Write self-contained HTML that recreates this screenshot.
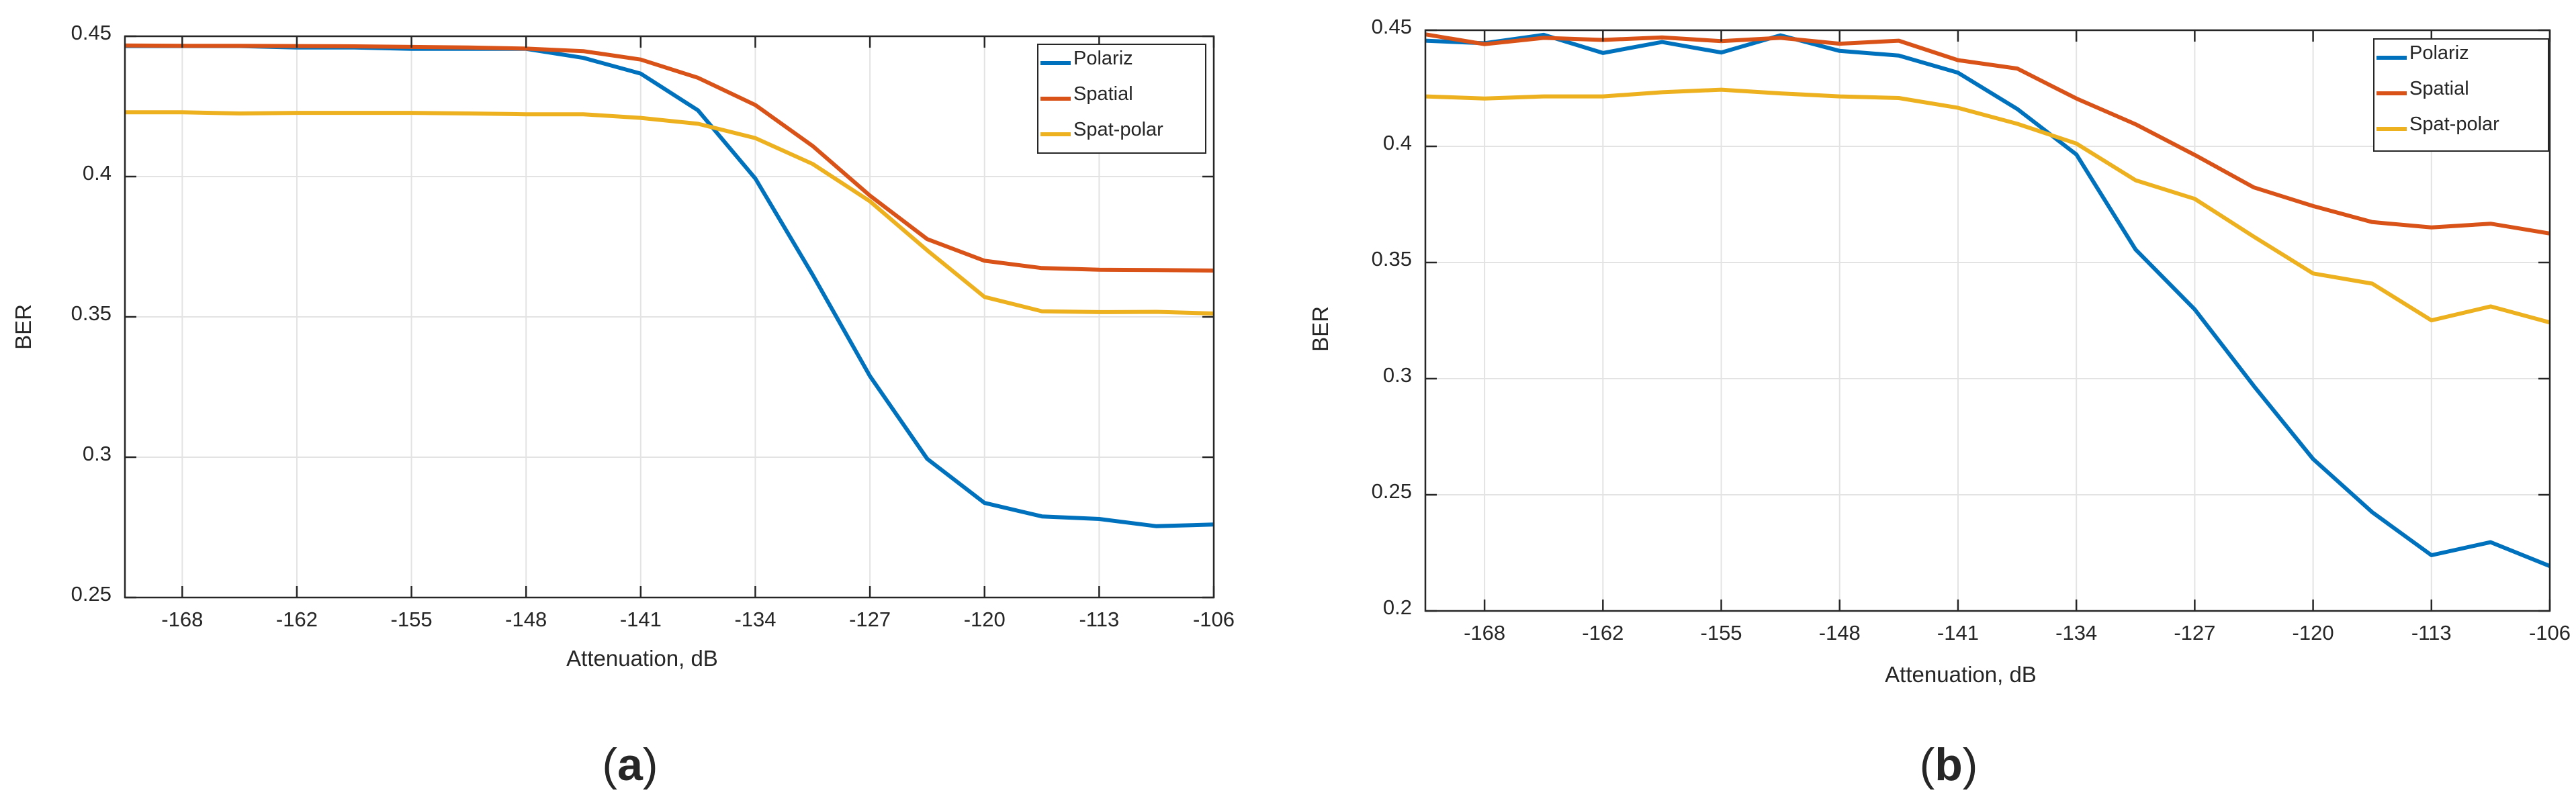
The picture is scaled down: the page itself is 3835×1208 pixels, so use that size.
<!DOCTYPE html>
<html><head><meta charset="utf-8"><style>
html,body{margin:0;padding:0;background:#fff;}
svg{display:block;}
text{font-family:"Liberation Sans",Arial,sans-serif;fill:#262626;}
</style></head>
<body>
<svg id="chart" width="3835" height="1208" viewBox="0 0 3835 1208" xmlns="http://www.w3.org/2000/svg"></svg>
<script>
const xTickLabels = ["-168","-162","-155","-148","-141","-134","-127","-120","-113","-106"];
const seriesNames = ["Polariz","Spatial","Spat-polar"];
const seriesColors = ["#0072BD","#D95319","#EDB120"];
const aPolariz = [0.4465,0.4465,0.4465,0.446,0.446,0.4455,0.4455,0.4455,0.4423,0.4367,0.4236,0.3993,0.365,0.3289,0.2994,0.2837,0.2789,0.278,0.2754,0.276];
const aSpatial = [0.4467,0.4466,0.4466,0.4465,0.4464,0.4462,0.446,0.4456,0.4447,0.4417,0.4352,0.4255,0.4109,0.3932,0.3777,0.37,0.3674,0.3668,0.3667,0.3665];
const aSpatPolar = [0.4229,0.4229,0.4225,0.4227,0.4227,0.4227,0.4225,0.4222,0.4222,0.4209,0.4188,0.4137,0.4045,0.3912,0.3737,0.3571,0.352,0.3517,0.3518,0.3512];
const bPolariz = [0.4455,0.4444,0.448,0.4402,0.4449,0.4404,0.4478,0.4411,0.4391,0.4317,0.4161,0.3965,0.3556,0.3298,0.2968,0.2654,0.2425,0.224,0.2296,0.2193];
const bSpatial = [0.4482,0.444,0.4467,0.4458,0.4469,0.4453,0.4467,0.4442,0.4455,0.4371,0.4335,0.4206,0.4095,0.3963,0.3823,0.3743,0.3674,0.3651,0.3667,0.3625];
const bSpatPolar = [0.4215,0.4206,0.4215,0.4215,0.4233,0.4244,0.4228,0.4215,0.4208,0.4166,0.4097,0.4012,0.3854,0.3774,0.3611,0.3453,0.3409,0.3251,0.3311,0.3242];
const aYTicks = [0.25,0.3,0.35,0.4,0.45];
const bYTicks = [0.2,0.25,0.3,0.35,0.4,0.45];

const NS="http://www.w3.org/2000/svg";
const svg=document.getElementById('chart');
function el(tag,attrs,parent){const e=document.createElementNS(NS,tag);for(const k in attrs)e.setAttribute(k,attrs[k]);(parent||svg).appendChild(e);return e;}

function panel(cfg){
  const g=el('g',{});
  
  
  const {L,R,T,B,ymin,ymax}=cfg;
  const nT=xTickLabels.length;
  const uMin=-0.5,uMax=nT-1;
  const xs=u=>L+(u-uMin)/(uMax-uMin)*(R-L);
  const ys=v=>B-(v-ymin)/(ymax-ymin)*(B-T);
  // grid
  for(let i=0;i<nT;i++){const x=xs(i);
    const gl=el('line',{x1:x,x2:x,y1:T,y2:B,stroke:'#e3e3e3','stroke-width':2},g);
    
    }
  cfg.yTicks.forEach(v=>{const y=ys(v);
    const gl=el('line',{x1:L,x2:R,y1:y,y2:y,stroke:'#e3e3e3','stroke-width':2},g);
    
    });
  // series
  cfg.series.forEach((arr,si)=>{
    const pts=arr.map((v,k)=>xs(uMin+0.5*k).toFixed(1)+','+ys(v).toFixed(1)).join(' ');
    const pl=el('polyline',{points:pts,fill:'none',stroke:seriesColors[si],'stroke-width':6,'stroke-linejoin':'round'},g);
    
    
  });
  // box
  const bx=el('rect',{x:L,y:T,width:R-L,height:B-T,fill:'none',stroke:'#262626','stroke-width':2.5},g);
  
  
  // ticks
  for(let i=0;i<nT;i++){const x=xs(i);
    el('line',{x1:x,x2:x,y1:B,y2:B-17,stroke:'#262626','stroke-width':2.5},g);
    el('line',{x1:x,x2:x,y1:T,y2:T+17,stroke:'#262626','stroke-width':2.5},g);
    const t=el('text',{x:x,y:B+43,'text-anchor':'middle','font-size':31},g);
    t.textContent=xTickLabels[i];
    
    }
  cfg.yTicks.forEach(v=>{const y=ys(v);
    el('line',{x1:L,x2:L+17,y1:y,y2:y,stroke:'#262626','stroke-width':2.5},g);
    el('line',{x1:R,x2:R-17,y1:y,y2:y,stroke:'#262626','stroke-width':2.5},g);
    const t=el('text',{x:L-20,y:y+5,'text-anchor':'end','font-size':31},g);
    t.textContent=String(v);
    
    });
  const xt=el('text',{x:cfg.xtx,y:cfg.xty,'text-anchor':'middle','font-size':33},g);
  xt.textContent='Attenuation, dB';
  
  
  const yt=el('text',{x:0,y:0,'text-anchor':'middle','font-size':33,transform:`translate(${cfg.ytx},${cfg.yty}) rotate(-90)`},g);
  yt.textContent='BER';
  
  
  // legend
  const lg=el('g',{},g);
  
  
  el('rect',{x:cfg.lx,y:cfg.ly,width:cfg.lw,height:cfg.lh,fill:'#fff',stroke:'#262626','stroke-width':2},lg);
  seriesNames.forEach((n,i)=>{
    const yy=cfg.ly+28+i*53;
    el('line',{x1:cfg.lx+4,x2:cfg.lx+49,y1:yy,y2:yy,stroke:seriesColors[i],'stroke-width':6},lg);
    const t=el('text',{x:cfg.lx+53,y:yy+2,'font-size':29,fill:'#000'},lg);
    t.textContent=n;
    
    
  });
  const cap=el('text',{x:cfg.capx,y:1162,'text-anchor':'middle','font-size':68,'font-family':'"Liberation Serif",serif'},g);
  const o1=el('tspan',{},cap);o1.textContent='(';
  const o2=el('tspan',{'font-weight':'bold'},cap);o2.textContent=cfg.cap;
  const o3=el('tspan',{},cap);o3.textContent=')';
  
  
}

panel({id:'panel-a',L:186,R:1807,T:54,B:890,ymin:0.25,ymax:0.45,yTicks:aYTicks,
  series:[aPolariz,aSpatial,aSpatPolar],xtx:956,xty:992,ytx:46,yty:487,
  lx:1545,ly:66,lw:250,lh:162,capx:938,cap:'a'});
panel({id:'panel-b',L:2122,R:3796,T:45,B:910,ymin:0.2,ymax:0.45,yTicks:bYTicks,
  series:[bPolariz,bSpatial,bSpatPolar],xtx:2919,xty:1016,ytx:1977,yty:490,
  lx:3534,ly:58,lw:260,lh:167,capx:2901,cap:'b'});
</script>
</body></html>
